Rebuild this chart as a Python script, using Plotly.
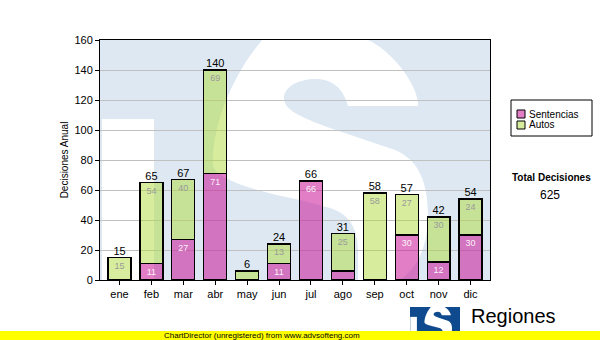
import plotly.graph_objects as go

# ---- data -------------------------------------------------------------
months = ["ene", "feb", "mar", "abr", "may", "jun", "jul", "ago", "sep", "oct", "nov", "dic"]
sentencias = [0, 11, 27, 71, 0, 11, 66, 6, 0, 30, 12, 30]
autos = [15, 54, 40, 69, 6, 13, 0, 25, 58, 27, 30, 24]
series_names = ["Sentencias", "Autos"]
y_ticks = [0, 20, 40, 60, 80, 100, 120, 140, 160]

totals = [s + a for s, a in zip(sentencias, autos)]
grand_total = sum(totals)

# ---- styling ----------------------------------------------------------
W, H = 600, 340
ML, MR, MT, MB = 100, 110, 40, 60
PW, PH = W - ML - MR, H - MT - MB

FONT = "Liberation Sans, Arial, sans-serif"
PINK = "rgba(200,20,150,0.55)"
GREEN = "rgba(175,220,60,0.5)"
PLOT_BG = "#dde8f2"
LOGO_BLUE = "#0f4a8e"
LABEL_MIN = 10  # segments smaller than this carry no inner label


def px_to_paper(px, py):
    return (px - ML) / PW, (H - MB - py) / PH


# Outline of the "S" emblem, in a 390 x 240 frame (y grows downward)
S_OUTLINE = [
    ("M", 318, 66),
    ("L", 248, 66),
    ("C", 243, 48, 232, 39, 216, 39),
    ("C", 198, 39, 184, 47, 184, 58),
    ("C", 184, 70, 200, 77, 230, 88),
    ("L", 295, 110),
    ("C", 320, 120, 328, 145, 328, 175),
    ("C", 328, 205, 318, 228, 300, 240),
    ("L", 258, 240),
    ("L", 258, 210),
    ("C", 258, 190, 250, 174, 230, 168),
    ("L", 200, 160),
    ("C", 160, 152, 115, 140, 113, 125),
    ("C", 112, 95, 125, 45, 162, 0),
    ("L", 268, 0),
    ("C", 290, 10, 315, 40, 318, 62),
    ("Z",),
]
# lower-left cut-out of the emblem
NOTCH = [("M", 2, 79), ("L", 54, 79), ("L", 54, 240), ("L", 2, 240), ("Z",)]


def build_path(cmds, ox, oy, sx, sy):
    """Map frame units to paper coordinates for an emblem placed at pixel (ox, oy)."""
    out = []
    for c in cmds:
        op, vals = c[0], c[1:]
        pts = []
        for i in range(0, len(vals), 2):
            x, y = px_to_paper(ox + vals[i] * sx, oy + vals[i + 1] * sy)
            pts.append(f"{x:.4f},{y:.4f}")
        out.append(op + " ".join(pts) if pts else op)
    return " ".join(out)


shapes = []
# faint emblem behind the bars (fills the plot area)
for part in (S_OUTLINE, NOTCH):
    shapes.append(dict(type="path", xref="paper", yref="paper", layer="below",
                       path=build_path(part, ML, MT, 1.0, 1.0),
                       fillcolor="white", line=dict(width=0)))

# small emblem at the bottom right
lx0, ly0, lw, lh = 410, 307, 50, 30
bx0, by0 = px_to_paper(lx0, ly0)
bx1, by1 = px_to_paper(lx0 + lw, ly0 + lh)
shapes.append(dict(type="rect", xref="paper", yref="paper", layer="below",
                   x0=bx0, x1=bx1, y0=by1, y1=by0, fillcolor=LOGO_BLUE, line=dict(width=0)))
for part in (S_OUTLINE, NOTCH):
    shapes.append(dict(type="path", xref="paper", yref="paper", layer="below",
                       path=build_path(part, lx0, ly0, lw / PW, lh / PH),
                       fillcolor="white", line=dict(width=0)))

# footer band
fx0, fy0 = px_to_paper(-5, 331)
fx1, fy1 = px_to_paper(W + 5, H + 5)
shapes.append(dict(type="rect", xref="paper", yref="paper", layer="below",
                   x0=fx0, x1=fx1, y0=fy1, y1=fy0, fillcolor="#ffff00", line=dict(width=0)))

# legend box and swatches
lgx0, lgy0 = px_to_paper(511, 100)
lgx1, lgy1 = px_to_paper(592, 136)
shapes.append(dict(type="rect", xref="paper", yref="paper", layer="above",
                   x0=lgx0, x1=lgx1, y0=lgy1, y1=lgy0, fillcolor="white",
                   line=dict(color="black", width=1)))
legend_rows = [114, 125]
annotations = []
for name, color, cy in zip(series_names, [PINK, GREEN], legend_rows):
    sx0, sy0 = px_to_paper(517, cy - 4)
    sx1, sy1 = px_to_paper(525, cy + 4)
    shapes.append(dict(type="rect", xref="paper", yref="paper", layer="above",
                       x0=sx0, x1=sx1, y0=sy1, y1=sy0, fillcolor=color,
                       line=dict(color="black", width=1)))
    tx, ty = px_to_paper(527, cy)
    annotations.append(dict(xref="paper", yref="paper", x=tx, y=ty, xanchor="left",
                            yanchor="middle", showarrow=False, text=name,
                            font=dict(size=10, color="black", family=FONT)))

tx, ty = px_to_paper(551, 177)
annotations.append(dict(xref="paper", yref="paper", x=tx, y=ty, showarrow=False,
                        text="<b>Total Decisiones</b>", xanchor="center", yanchor="middle",
                        font=dict(size=10, color="black", family=FONT)))
tx, ty = px_to_paper(550, 195)
annotations.append(dict(xref="paper", yref="paper", x=tx, y=ty, showarrow=False,
                        text=str(grand_total), xanchor="center", yanchor="middle",
                        font=dict(size=12, color="black", family=FONT)))
tx, ty = px_to_paper(469, 316)
annotations.append(dict(xref="paper", yref="paper", x=tx, y=ty, showarrow=False,
                        text="Regiones", xanchor="left", yanchor="middle",
                        font=dict(size=20, color="black", family=FONT)))
tx, ty = px_to_paper(262, 335.5)
annotations.append(dict(xref="paper", yref="paper", x=tx, y=ty, showarrow=False,
                        text="ChartDirector (unregistered) from www.advsofteng.com",
                        xanchor="center", yanchor="middle",
                        font=dict(size=8, color="black", family=FONT)))

# ---- traces -----------------------------------------------------------
fig = go.Figure()
fig.add_trace(go.Bar(
    x=months, y=sentencias, name=series_names[0],
    marker=dict(color=PINK, line=dict(color="black", width=1.2)),
    text=[str(v) if v >= LABEL_MIN else "" for v in sentencias],
    textposition="inside", insidetextanchor="end", textangle=0, constraintext="none",
    textfont=dict(size=9, color="rgba(255,255,255,0.92)", family=FONT),
    showlegend=False, hoverinfo="x+y",
))
fig.add_trace(go.Bar(
    x=months, y=autos, name=series_names[1],
    marker=dict(color=GREEN, line=dict(color="black", width=1.2)),
    text=[str(v) if v >= LABEL_MIN else "" for v in autos],
    textposition="inside", insidetextanchor="end", textangle=0, constraintext="none",
    textfont=dict(size=9, color="#9a9a9a", family=FONT),
    showlegend=False, hoverinfo="x+y",
))
fig.add_trace(go.Scatter(
    x=months, y=totals, mode="text", text=[str(t) for t in totals],
    textposition="top center", textfont=dict(size=11, color="black", family=FONT),
    showlegend=False, hoverinfo="skip", cliponaxis=False,
))

fig.update_layout(
    width=W, height=H, autosize=False,
    margin=dict(l=ML, r=MR, t=MT, b=MB, pad=0),
    paper_bgcolor="white", plot_bgcolor=PLOT_BG,
    barmode="stack", bargap=0.28,
    font=dict(family=FONT, size=11, color="black"),
    shapes=shapes, annotations=annotations,
    showlegend=False,
    xaxis=dict(type="category", showline=True, linecolor="black", linewidth=1, mirror=True,
               ticks="outside", ticklen=4, tickcolor="black", showgrid=False,
               tickfont=dict(size=11)),
    yaxis=dict(range=[0, 160], tickvals=y_ticks, showline=True, linecolor="black",
               linewidth=1, mirror=True, ticks="outside", ticklen=4, tickcolor="black",
               showgrid=True, gridcolor="#c0c0c0", gridwidth=1, zeroline=False,
               tickfont=dict(size=11),
               title=dict(text="Decisiones Anual", font=dict(size=10), standoff=3)),
)

fig.write_html("out.html")
